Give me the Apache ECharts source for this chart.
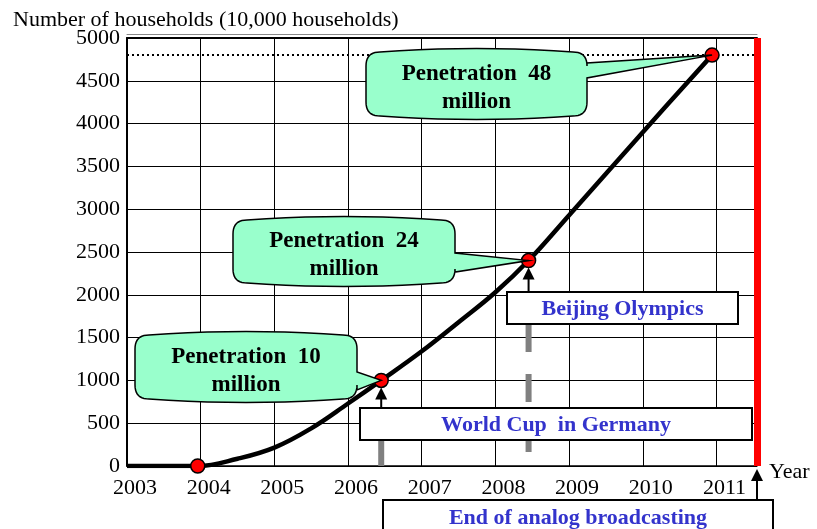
<!DOCTYPE html>
<html>
<head>
<meta charset="utf-8">
<script src="https://cdn.jsdelivr.net/npm/echarts@6/dist/echarts.min.js"></script>
<style>
  html, body { margin: 0; background: #fff; }
  #chart { width: 817px; height: 529px; }
</style>
</head>
<body>
<div id="chart"></div>
<script>
// household counts (10,000 households)
const curveYears = [2003, 2003.96, 2004.5, 2005, 2005.5, 2006, 2006.45, 2007, 2007.5, 2008, 2008.45, 2009, 2010, 2010.94]
const curveValues = [0, 0, 85, 215, 440, 730, 1000, 1340, 1680, 2030, 2400, 2930, 3900, 4800]

// the red milestone dots
const milestoneYears = [2003.96, 2006.45, 2008.45, 2010.94]
const milestoneValues = [0, 1000, 2400, 4800]

const targetValue = 4800
const analogEndYear = 2011.55

const calloutTexts = ['Penetration  10\nmillion', 'Penetration  24\nmillion', 'Penetration  48\nmillion']
const eventTexts = ['World Cup  in Germany', 'Beijing Olympics', 'End of analog broadcasting']

const serif = '"Liberation Serif", "Times New Roman", serif'

const chart = echarts.init(document.getElementById('chart'))

chart.setOption({
  animation: false,
  title: {
    text: 'Number of households (10,000 households)',
    left: 8,
    top: 4,
    textStyle: { fontFamily: serif, fontSize: 22, fontWeight: 'normal', color: '#000' }
  },
  grid: { left: 127, right: 60, top: 38, bottom: 63 },
  xAxis: [{
    type: 'value',
    min: 2003,
    max: analogEndYear,
    interval: 1,
    offset: 4,
    name: 'Year',
    nameLocation: 'end',
    nameGap: 12,
    nameTextStyle: { fontFamily: serif, fontSize: 22, color: '#000', verticalAlign: 'top', lineHeight: 12 },
    axisLine: { lineStyle: { color: '#000', width: 1.5 } },
    axisTick: { show: false },
    axisLabel: {
      showMaxLabel: false,
      margin: 7,
      padding: [0, 0, 0, 16],
      fontFamily: serif,
      fontSize: 22,
      color: '#000',
      formatter: v => String(v)
    },
    splitLine: { lineStyle: { color: '#000', width: 1 } }
  }, {
    type: 'value',
    position: 'top',
    min: 2003,
    max: analogEndYear,
    axisLine: { lineStyle: { color: '#000', width: 2 } },
    axisTick: { show: false },
    axisLabel: { show: false },
    splitLine: { show: false }
  }, {
    type: 'value',
    position: 'top',
    offset: 4,
    min: 2003,
    max: analogEndYear,
    axisLine: { lineStyle: { color: '#888', width: 1 } },
    axisTick: { show: false },
    axisLabel: { show: false },
    splitLine: { show: false }
  }],
  yAxis: {
    type: 'value',
    min: 0,
    max: 5000,
    interval: 500,
    axisLine: { show: true, lineStyle: { color: '#000', width: 2 } },
    axisTick: { show: false },
    axisLabel: { margin: 7, fontFamily: serif, fontSize: 22, color: '#000', formatter: v => String(v) },
    splitLine: { lineStyle: { color: '#000', width: 1 } }
  },
  series: [{
    type: 'line',
    data: curveYears.map((y, i) => [y, curveValues[i]]),
    smooth: 0.4,
    showSymbol: false,
    lineStyle: { color: '#000', width: 4.5 },
    z: 3
  }, {
    type: 'scatter',
    data: milestoneYears.map((y, i) => [y, milestoneValues[i]]),
    symbolSize: 14,
    itemStyle: { color: '#ff0000', opacity: 1, borderColor: '#000', borderWidth: 1.5 },
    z: 5,
    markLine: {
      silent: true,
      symbol: 'none',
      label: { show: false },
      data: [
        { yAxis: targetValue, lineStyle: { color: '#000', width: 2, type: [2, 3] } },
        { xAxis: analogEndYear, lineStyle: { color: '#ff0000', width: 7, type: 'solid' } }
      ]
    }
  }]
})

const px = (x, y) => chart.convertToPixel({ gridIndex: 0 }, [x, y])

// callout boxes [x0, y0, x1, y1] and where the pointer leaves the right side
const calloutBoxes = [[135, 335, 357, 399], [233, 220, 455, 283], [366, 52, 587, 116]]
const calloutBases = [[372, 390], [253, 272], [63, 78]]

function quad (pts, p0, c, p1) {
  for (let k = 1; k <= 10; k++) {
    const t = k / 10
    const u = 1 - t
    pts.push([u * u * p0[0] + 2 * u * t * c[0] + t * t * p1[0], u * u * p0[1] + 2 * u * t * c[1] + t * t * p1[1]])
  }
}

function calloutPoints (b, base, tip) {
  const [x0, y0, x1, y1] = b
  const r = 14
  const mx = (x0 + x1) / 2
  const pts = [[x0 + r, y0]]
  quad(pts, [x0 + r, y0], [mx, y0 - 7], [x1 - r, y0])
  quad(pts, [x1 - r, y0], [x1, y0], [x1, y0 + r])
  pts.push([x1, base[0]], tip, [x1, base[1]], [x1, y1 - r])
  quad(pts, [x1, y1 - r], [x1, y1], [x1 - r, y1])
  quad(pts, [x1 - r, y1], [mx, y1 + 7], [x0 + r, y1])
  quad(pts, [x0 + r, y1], [x0, y1], [x0, y1 - r])
  pts.push([x0, y0 + r])
  quad(pts, [x0, y0 + r], [x0, y0], [x0 + r, y0])
  return pts
}

const elements = []

calloutBoxes.forEach((b, i) => {
  const tip = px(milestoneYears[i + 1], milestoneValues[i + 1])
  elements.push({
    type: 'polygon',
    z: 100,
    shape: { points: calloutPoints(b, calloutBases[i], tip) },
    style: { fill: '#99ffcc', stroke: '#000', lineWidth: 1.5 }
  })
  elements.push({
    type: 'text',
    z: 101,
    x: (b[0] + b[2]) / 2,
    y: (b[1] + b[3]) / 2 + 4,
    style: {
      text: calloutTexts[i],
      font: 'bold 23px ' + serif,
      fill: '#000',
      align: 'center',
      verticalAlign: 'middle',
      lineHeight: 28
    }
  })
})

// event label boxes
const eventBoxes = [[360, 408, 752, 440], [507, 292, 738, 324], [383, 500, 773, 540]]
const eventTextY = [425, 309, 518]

function arrowUp (x, tipY, fromY) {
  elements.push({
    type: 'line', z: 90,
    shape: { x1: x, y1: fromY, x2: x, y2: tipY + 8 },
    style: { stroke: '#000', lineWidth: 2 }
  })
  elements.push({
    type: 'polygon', z: 90,
    shape: { points: [[x, tipY], [x - 6, tipY + 12], [x + 6, tipY + 12]] },
    style: { fill: '#000' }
  })
}

const axisBottom = px(2003, 0)[1]
const eventAnchors = [px(milestoneYears[1], milestoneValues[1]), px(milestoneYears[2], milestoneValues[2]), px(analogEndYear, 0)]

// grey drop lines under the two event boxes
elements.push({
  type: 'line', z: 80,
  shape: { x1: eventAnchors[0][0], y1: eventBoxes[0][3], x2: eventAnchors[0][0], y2: axisBottom },
  style: { stroke: '#808080', lineWidth: 6 }
})
elements.push({
  type: 'line', z: 80,
  shape: { x1: eventAnchors[1][0], y1: eventBoxes[1][3], x2: eventAnchors[1][0], y2: axisBottom - 10 },
  style: { stroke: '#808080', lineWidth: 6, lineDash: [28, 22] }
})

arrowUp(eventAnchors[0][0], eventAnchors[0][1] + 7, eventBoxes[0][1])
arrowUp(eventAnchors[1][0], eventAnchors[1][1] + 7, eventBoxes[1][1])
arrowUp(eventAnchors[2][0], eventAnchors[2][1] + 3, eventBoxes[2][1])

eventBoxes.forEach((b, i) => {
  elements.push({
    type: 'rect', z: 95,
    shape: { x: b[0], y: b[1], width: b[2] - b[0], height: b[3] - b[1] },
    style: { fill: '#fff', stroke: '#000', lineWidth: 2 }
  })
  elements.push({
    type: 'text', z: 96,
    x: (b[0] + b[2]) / 2,
    y: eventTextY[i],
    style: {
      text: eventTexts[i],
      font: 'bold 22px ' + serif,
      fill: '#3333cc',
      align: 'center',
      verticalAlign: 'middle'
    }
  })
})

chart.setOption({ graphic: { elements } })
</script>
</body>
</html>
